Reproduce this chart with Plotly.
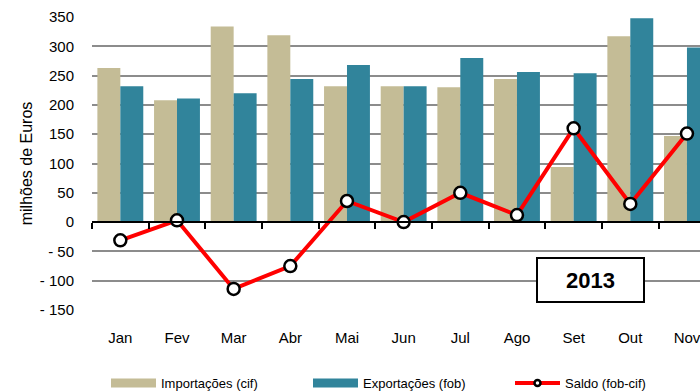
import plotly.graph_objects as go

# Monthly trade figures, 2013 (milhões de Euros)
meses = ["Jan", "Fev", "Mar", "Abr", "Mai", "Jun", "Jul", "Ago", "Set", "Out", "Nov"]
importacoes = [263, 208, 334, 319, 232, 232, 230, 244, 94, 317, 147]
exportacoes = [232, 211, 220, 244, 268, 232, 280, 256, 254, 348, 298]
saldo = [-31, 3, -114, -75, 36, 0, 50, 12, 160, 31, 151]

y_tickvals = [-150, -100, -50, 0, 50, 100, 150, 200, 250, 300, 350]
y_ticktext = ["- 150", "- 100", "- 50", "0", "50", "100", "150", "200", "250", "300", "350"]

COR_IMP = "#C4BC96"
COR_EXP = "#31849B"
COR_SALDO = "#FF0000"
FONTE = "Liberation Sans, Arial, sans-serif"

idx = list(range(len(meses)))
x_range = [-0.5, 10.23]
y_range = [-150, 350]
zero_pos = (0 - y_range[0]) / (y_range[1] - y_range[0])

fig = go.Figure()

fig.add_trace(go.Bar(x=idx, y=importacoes, marker_color=COR_IMP, marker_line_width=0,
                     name="Importações (cif)", showlegend=False))
fig.add_trace(go.Bar(x=idx, y=exportacoes, marker_color=COR_EXP, marker_line_width=0,
                     name="Exportações (fob)", showlegend=False))

# legend entries: wide colour swatches and a small-marker line sample
fig.add_trace(go.Scatter(x=[None], y=[None], mode="lines", name="Importações (cif)",
                         line=dict(color=COR_IMP, width=9)))
fig.add_trace(go.Scatter(x=[None], y=[None], mode="lines", name="Exportações (fob)",
                         line=dict(color=COR_EXP, width=9)))
fig.add_trace(go.Scatter(x=[None], y=[None], mode="lines+markers", name="Saldo (fob-cif)",
                         line=dict(color=COR_SALDO, width=4),
                         marker=dict(size=6, color="white", line=dict(color="black", width=2.5))))

fig.add_trace(go.Scatter(
    x=idx, y=saldo, xaxis="x2", mode="lines+markers", name="Saldo (fob-cif)",
    showlegend=False,
    line=dict(color=COR_SALDO, width=4),
    marker=dict(size=12, color="white", line=dict(color="black", width=2.5)),
))

fig.update_layout(
    width=700, height=392,
    margin=dict(l=92, r=0, t=17, b=82),
    paper_bgcolor="white", plot_bgcolor="white",
    font=dict(family=FONTE, color="black", size=15),
    barmode="group", bargap=0.19, bargroupgap=0,
    xaxis=dict(type="linear", range=x_range, tickvals=idx, ticktext=meses,
               showgrid=False, zeroline=False, showline=False, ticks="",
               ticklabelstandoff=17, ticklabeloverflow="allow",
               tickfont=dict(size=15)),
    xaxis2=dict(type="linear", overlaying="x", anchor="free", position=zero_pos,
                range=x_range, tickvals=[i - 0.5 for i in range(len(meses) + 1)],
                ticks="outside", ticklen=6, tickwidth=1.5, tickcolor="black",
                showline=True, linecolor="black", linewidth=1.5,
                showticklabels=False, showgrid=False, zeroline=False),
    yaxis=dict(range=y_range, tickvals=y_tickvals, ticktext=y_ticktext,
               showgrid=True, gridcolor="#8c8c8c", gridwidth=1.5,
               zeroline=False, showline=False, ticks="",
               ticklabelstandoff=17, tickfont=dict(size=15),
               title=dict(text="milhões de Euros", font=dict(size=16), standoff=3)),
    legend=dict(orientation="h", xref="container", yref="container",
                x=106 / 700, y=1 - 383 / 392, xanchor="left", yanchor="middle",
                itemwidth=45, entrywidth=142, font=dict(size=13),
                bgcolor="rgba(0,0,0,0)"),
    annotations=[dict(
        text="<b>2013</b>", xref="paper", yref="paper", x=0.8207, y=0.104,
        xanchor="center", yanchor="middle", showarrow=False,
        font=dict(size=22, color="black"),
        width=103, height=40, bgcolor="white", bordercolor="black", borderwidth=2,
    )],
)

fig.write_html("out.html")
